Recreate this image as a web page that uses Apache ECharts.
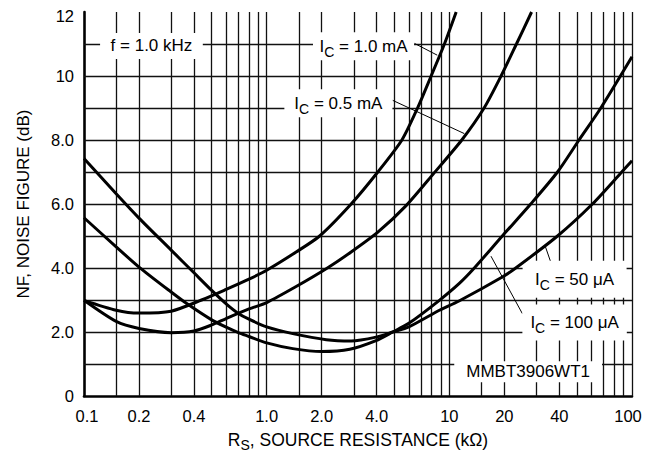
<!DOCTYPE html>
<html>
<head>
<meta charset="utf-8">
<script src="https://cdn.jsdelivr.net/npm/echarts@6/dist/echarts.min.js"></script>
<style>
html,body{margin:0;padding:0;background:#fff;}
#chart{width:655px;height:459px;}
</style>
</head>
<body>
<div id="chart"></div>
<script>
// ---- axis data ----
const gridXValues = [0.15,0.2,0.3,0.4,0.5,0.6,0.7,0.8,0.9,1,1.5,2,3,4,5,6,7,8,9,10,15,20,30,40,50,60,70,80,90,100];
const gridYValues = [1,2,3,4,5,6,7,8,9,10,11];
const xTickValues = [0.1,0.2,0.4,1,2,4,10,20,40,100];
const xTickLabels = ['0.1','0.2','0.4','1.0','2.0','4.0','10','20','40','100'];
const yTickValues = [0,2,4,6,8,10,12];
const yTickLabels = ['0','2.0','4.0','6.0','8.0','10','12'];

// ---- curves: Rs (kOhm) and NF (dB) ----
const rsIc1mA = [0.1,0.15,0.2,0.3,0.44,0.6,0.8,1.0,1.45,1.95,2.9,4.06,5.5,6.7,7.95,9.4,10.9];
const nfIc1mA = [2.99,2.68,2.59,2.65,3.0,3.33,3.65,3.93,4.5,5.0,6.0,7.0,8.0,9.0,10.0,11.0,12.0];

const rsIc05mA = [0.1,0.15,0.2,0.3,0.4,0.5,0.6,0.8,1.0,1.45,2.15,2.9,4.06,5.8,8.2,11.7,15.5,19.2,23.3,28.2];
const nfIc05mA = [2.99,2.33,2.11,1.98,2.03,2.22,2.42,2.72,2.92,3.42,4.0,4.5,5.12,5.95,6.95,8.0,9.0,10.0,11.0,12.0];

const rsIc50uA = [0.1,0.15,0.2,0.3,0.4,0.5,0.6,0.7,0.8,1.0,1.39,2.12,2.9,3.97,4.9,6.0,8.82,11.3,19.5,23.1,39.1,60.7,87.9,100];
const nfIc50uA = [7.42,6.32,5.56,4.56,3.85,3.30,2.88,2.58,2.40,2.16,1.95,1.76,1.72,1.84,2.0,2.16,2.68,2.97,3.72,4.0,5.0,6.0,7.0,7.35];

const rsIc100uA = [0.1,0.15,0.2,0.3,0.365,0.5,0.6,0.7,0.8,1.0,1.39,2.0,2.85,3.97,4.9,6.0,8.82,11.3,13.7,19.5,27.9,39.1,51.3,67.5,100];
const nfIc100uA = [5.57,4.66,4.03,3.25,2.89,2.38,2.15,1.98,1.86,1.66,1.48,1.39,1.46,1.73,2.0,2.27,2.99,3.51,4.0,5.0,6.0,7.0,8.0,9.0,10.6];

const FONT = '"Liberation Sans", Arial, Helvetica, sans-serif';
const INK = '#000';

function curve(name, xs, ys) {
  return {
    type: 'line', name: name,
    data: xs.map((x, i) => [x, ys[i]]),
    showSymbol: false, symbol: 'none',
    smooth: 0.25, clip: true, silent: true,
    lineStyle: { color: INK, width: 3 },
    z: 5
  };
}

const richT = {
  t: { fontSize: 17, lineHeight: 25, fontFamily: FONT, color: INK, verticalAlign: 'middle' },
  s: { fontSize: 14, lineHeight: 14, padding: [11, 0, 0, 0], fontFamily: FONT, color: INK, verticalAlign: 'middle' },
  m: { fontSize: 17, lineHeight: 17, fontFamily: FONT, color: INK, verticalAlign: 'middle' }
};

function box(coord, text, padding) {
  return {
    coord: coord, name: text,
    label: { formatter: text, padding: padding }
  };
}

const option = {
  backgroundColor: '#fff',
  animation: false,
  textStyle: { fontFamily: FONT },
  grid: { left: 84, right: 23, top: 12, bottom: 63, containLabel: false, outerBoundsMode: 'none' },
  xAxis: {
    type: 'log', logBase: 10, min: 0.1, max: 100,
    axisLine: { show: true, onZero: false, lineStyle: { color: INK, width: 2.6 } },
    axisTick: { show: false },
    axisLabel: { show: false },
    splitLine: { show: false },
    minorTick: { show: false },
    minorSplitLine: { show: false },
    name: '{t|R}{s|S}{t|, SOURCE RESISTANCE (kΩ)}',
    nameLocation: 'middle',
    nameGap: 31,
    nameTextStyle: {
      rich: {
        t: { fontSize: 17.5, lineHeight: 25, fontFamily: FONT, color: INK, verticalAlign: 'middle' },
        s: { fontSize: 14, lineHeight: 14, padding: [11, 0, 0, 0], fontFamily: FONT, color: INK, verticalAlign: 'middle' }
      }
    }
  },
  yAxis: {
    type: 'value', min: 0, max: 12, interval: 1,
    axisLine: { show: true, onZero: false, lineStyle: { color: INK, width: 2.6 } },
    axisTick: { show: false },
    splitLine: { show: false },
    axisLabel: {
      color: INK, fontSize: 16.5, fontFamily: FONT, margin: 10,
      formatter: function (v) {
        const i = yTickValues.indexOf(v);
        if (i < 0) return '';
        if (v === 12) return '{top|' + yTickLabels[i] + '}';
        return yTickLabels[i];
      },
      rich: { top: { fontSize: 16.5, fontFamily: FONT, color: INK, padding: [8, 0, 0, 0] } }
    },
    name: 'NF, NOISE FIGURE (dB)',
    nameLocation: 'middle',
    nameRotate: 90,
    nameGap: 52,
    nameTextStyle: { fontSize: 17, fontFamily: FONT, color: INK }
  },
  series: [
    {
      type: 'line', name: 'grid', data: [], silent: true, z: 1,
      markLine: {
        silent: true, symbol: 'none', animation: false,
        label: { show: false },
        lineStyle: { color: '#111', width: 1.3, type: 'solid' },
        emphasis: { disabled: true },
        data: gridXValues.map(v => ({ xAxis: v })).concat(gridYValues.map(v => ({ yAxis: v })))
      }
    },
    {
      type: 'line', name: 'ticks', data: [], silent: true, z: 2,
      markPoint: {
        silent: true, symbol: 'circle', symbolSize: 1, animation: false,
        itemStyle: { color: 'rgba(0,0,0,0)' },
        label: { show: true, position: 'bottom', distance: 11, color: INK, fontSize: 16.5, fontFamily: FONT, formatter: '{b}' },
        data: xTickValues.map((v, i) => ({
          coord: [v, 0], name: xTickLabels[i],
          label: { offset: i === 0 ? [3, 0] : (i === xTickValues.length - 1 ? [-4, 0] : [0, 0]) }
        }))
      }
    },
    {
      type: 'line', name: 'boxes', data: [], silent: true, z: 3,
      markPoint: {
        silent: true, symbol: 'circle', symbolSize: 1, animation: false,
        itemStyle: { color: 'rgba(0,0,0,0)' },
        label: { show: true, position: 'inside', backgroundColor: '#fff', color: INK, rich: richT },
        data: [
          box([0.234, 10.94], '{t|f = 1.0 kHz}', [0.5, 10.5]),
          box([3.39, 10.93], '{t|I}{s|C}{t| = 1.0 mA}', [1.5, 6.5]),
          box([2.47, 9.15], '{t|I}{s|C}{t| = 0.5 mA}', [1.5, 10]),
          box([48.5, 3.65], '{t|I}{s|C}{t| = 50 μA}', [6, 12.5]),
          box([48.5, 2.30], '{t|I}{s|C}{t| = 100 μA}', [5.5, 8]),
          box([27.0, 0.756], '{m|MMBT3906WT1}', [2, 12])
        ]
      }
    },
    {
      type: 'line', name: 'leaders', data: [], silent: true, z: 4,
      markLine: {
        silent: true, symbol: 'none', animation: false,
        label: { show: false },
        lineStyle: { color: INK, width: 1, type: 'solid' },
        emphasis: { disabled: true },
        data: [
          [{ coord: [6.44, 11.02] }, { coord: [8.59, 10.65] }],
          [{ coord: [4.89, 9.24] }, { coord: [12.08, 8.2] }],
          [{ coord: [36.7, 4.03] }, { coord: [33.5, 4.68] }],
          [{ coord: [16.9, 4.37] }, { coord: [25.1, 2.575] }]
        ]
      }
    },
    curve('IC = 1.0 mA', rsIc1mA, nfIc1mA),
    curve('IC = 0.5 mA', rsIc05mA, nfIc05mA),
    curve('IC = 50 μA', rsIc50uA, nfIc50uA),
    curve('IC = 100 μA', rsIc100uA, nfIc100uA)
  ]
};

const chart = echarts.init(document.getElementById('chart'), null, { renderer: 'svg' });
chart.setOption(option);
</script>
</body>
</html>
